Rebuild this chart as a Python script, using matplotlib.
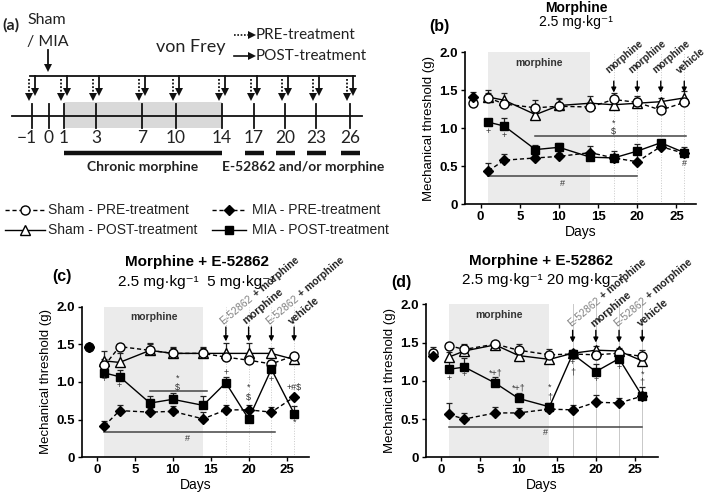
import numpy as np
import matplotlib
matplotlib.use('Agg')
import matplotlib.pyplot as plt
import matplotlib.transforms as mtransforms

plt.rcParams['font.family'] = ['Liberation Sans', 'DejaVu Sans']
TL_FONT = ['Lato', 'DejaVu Sans']

# ---------------- data ----------------
pre_days = [-1, 1, 3, 7, 10, 14, 17, 20, 23, 26]
post_days = [1, 3, 7, 10, 14, 17, 20, 23, 26]
event_days = [17, 20, 23, 26]

# panel (b) Morphine 2.5 mg/kg
b_sham_pre = [1.33, 1.40, 1.32, 1.27, 1.29, 1.28, 1.38, 1.34, 1.24, 1.34]
b_sham_pre_err = [0.03, 0.06, 0.05, 0.10, 0.11, 0.06, 0.08, 0.06, 0.04, 0.05]
b_sham_post = [1.41, 1.37, 1.18, 1.30, 1.33, 1.31, 1.33, 1.35, 1.40]
b_sham_post_err = [0.10, 0.09, 0.05, 0.08, 0.10, 0.05, 0.09, 0.05, 0.09]
b_mia_pre = [1.41, 0.44, 0.58, 0.61, 0.63, 0.68, 0.61, 0.56, 0.76, 0.67]
b_mia_pre_err = [0.07, 0.10, 0.08, 0.04, 0.04, 0.09, 0.04, 0.10, 0.03, 0.05]
b_mia_post = [1.08, 1.03, 0.72, 0.75, 0.62, 0.61, 0.70, 0.81, 0.68]
b_mia_post_err = [0.03, 0.11, 0.06, 0.05, 0.07, 0.09, 0.09, 0.03, 0.07]
b_events = ['morphine', 'morphine', 'morphine', 'vehicle']
b_marks = [(1, 0.96, '+'), (3, 0.90, '+'), (17, 1.07, '*'), (17, 0.96, '$'),
           (10.5, 0.28, '#'), (26, 0.54, '#')]
b_sig = [(7, 26.2, 0.895), (1, 20, 0.37)]

# panel (c) Morphine 2.5 + E-52862 5 mg/kg
c_sham_pre = [1.47, 1.22, 1.47, 1.42, 1.38, 1.38, 1.33, 1.29, 1.24, 1.35]
c_sham_pre_err = [0.02, 0.08, 0.03, 0.10, 0.09, 0.08, 0.06, 0.05, 0.05, 0.03]
c_sham_post = [1.28, 1.26, 1.42, 1.38, 1.38, 1.38, 1.38, 1.38, 1.30]
c_sham_post_err = [0.13, 0.13, 0.08, 0.07, 0.07, 0.14, 0.14, 0.07, 0.05]
c_mia_pre = [1.47, 0.42, 0.62, 0.60, 0.61, 0.51, 0.63, 0.63, 0.60, 0.80]
c_mia_pre_err = [0.02, 0.06, 0.08, 0.05, 0.07, 0.09, 0.06, 0.07, 0.07, 0.03]
c_mia_post = [1.12, 1.07, 0.72, 0.77, 0.69, 0.99, 0.51, 1.17, 0.58]
c_mia_post_err = [0.08, 0.09, 0.09, 0.08, 0.12, 0.08, 0.12, 0.07, 0.10]
c_events = ['E-52862|+ morphine', 'morphine', 'E-52862|+ morphine', 'vehicle']
c_marks = [(1, 1.03, '+'), (3, 0.96, '+'), (10.6, 1.05, '*'), (10.6, 0.93, '$'),
           (17, 1.13, '+'), (20, 0.93, '*'), (20, 0.80, '$'), (23, 1.03, '+'),
           (26, 0.93, '+#$'), (26, 0.46, '*'), (12, 0.25, '#')]
c_sig = [(7, 14.5, 0.88), (1, 23.5, 0.33)]

# panel (d) Morphine 2.5 + E-52862 20 mg/kg
d_sham_pre = [1.36, 1.46, 1.41, 1.48, 1.40, 1.34, 1.35, 1.34, 1.36, 1.32]
d_sham_pre_err = [0.08, 0.03, 0.07, 0.02, 0.08, 0.08, 0.03, 0.04, 0.04, 0.08]
d_sham_post = [1.31, 1.39, 1.47, 1.33, 1.28, 1.36, 1.40, 1.39, 1.26]
d_sham_post_err = [0.06, 0.05, 0.02, 0.04, 0.04, 0.04, 0.05, 0.04, 0.04]
d_mia_pre = [1.32, 0.56, 0.50, 0.58, 0.58, 0.63, 0.62, 0.72, 0.71, 0.80]
d_mia_pre_err = [0.03, 0.15, 0.08, 0.08, 0.07, 0.03, 0.07, 0.10, 0.06, 0.03]
d_mia_post = [1.15, 1.18, 0.97, 0.77, 0.66, 1.35, 1.12, 1.29, 0.80]
d_mia_post_err = [0.11, 0.12, 0.08, 0.07, 0.05, 0.04, 0.10, 0.06, 0.12]
d_events = ['E-52862|+ morphine', 'morphine', 'E-52862|+ morphine', 'vehicle']
d_marks = [(1, 1.03, '+'), (3, 1.08, '+'), (7, 1.10, '*+†'), (10, 0.90, '*+†'),
           (14, 0.91, '*'), (14, 0.79, '†'), (17, 1.24, '+'), (17, 1.12, '†'),
           (20, 1.02, '+'), (23, 1.18, '+'), (26, 1.09, '*'), (26, 0.98, '†'),
           (13.5, 0.32, '#')]
d_sig = [(1, 26, 0.40)]

# timeline (a)
tl_labels = ['−1', '0', '1', '3', '7', '10', '14', '17', '20', '23', '26']
tl_has_test = [True, False, True, True, True, True, True, True, True, True, True]
tl_treat = ['17', '20', '23', '26']

legend_labels = ['Sham - PRE-treatment', 'Sham - POST-treatment',
                 'MIA - PRE-treatment', 'MIA - POST-treatment']

# ---------------- figure ----------------
W, H = 709, 493
fig = plt.figure(figsize=(W / 100, H / 100), dpi=100)

ov = fig.add_axes([0, 0, 1, 1])
ov.set_xlim(0, W)
ov.set_ylim(H, 0)
ov.axis('off')

# ---- timeline layout (pixel positions of the schematic) ----
tl_x = [32, 49, 64, 96, 142, 176, 222, 254, 285, 316, 350]
ax_y = 116
ov.add_patch(plt.Rectangle((tl_x[2], 102), tl_x[6] - tl_x[2], 26,
                           facecolor='#d9d9d9', edgecolor='none', zorder=1))
ov.plot([12, 362], [ax_y, ax_y], color='#111', lw=1.3, zorder=2)
for x, lab, test in zip(tl_x, tl_labels, tl_has_test):
    ov.plot([x, x], [104, 128], color='#111', lw=1.3, zorder=2)
    dx = -5 if lab.startswith('−') else 0
    ov.text(x + dx, 138, lab, ha='center', va='center', fontsize=12.5,
            family=TL_FONT, color='#222')
    if test:
        ov.plot([x - 3, x - 3], [79, 95], color='#111', lw=1.3, ls=(0, (1, 1)))
        ov.plot([x - 3], [97], marker='v', color='#111', ms=5.5, mew=0)
        ov.plot([x + 3, x + 3], [76, 90], color='#111', lw=1.3)
        ov.plot([x + 3], [92], marker='v', color='#111', ms=5.5, mew=0)
ov.plot([tl_x[0] - 2, tl_x[-1] + 5], [76, 76], color='#111', lw=1.3)
# sham / MIA arrow
ov.plot([48, 48], [50, 66], color='#111', lw=1.3)
ov.plot([48], [68], marker='v', color='#111', ms=6, mew=0)
ov.text(27, 20, 'Sham', ha='left', va='center', fontsize=11.5, family=TL_FONT, color='#222')
ov.text(27, 42, '/ MIA', ha='left', va='center', fontsize=11.5, family=TL_FONT, color='#222')
ov.text(2, 25, '(a)', ha='left', va='center', fontsize=11.5, fontweight='bold',
        family=TL_FONT, color='#222')
ov.text(191, 47, 'von Frey', ha='center', va='center', fontsize=13, family=TL_FONT, color='#222')
ov.plot([234, 249], [35, 35], color='#111', lw=1.2, ls=(0, (1, 1)))
ov.plot([252], [35], marker='>', color='#111', ms=5.5, mew=0)
ov.plot([234, 249], [56, 56], color='#111', lw=1.2)
ov.plot([252], [56], marker='>', color='#111', ms=5.5, mew=0)
ov.text(256, 35, 'PRE-treatment', ha='left', va='center', fontsize=11, family=TL_FONT, color='#222')
ov.text(256, 56, 'POST-treatment', ha='left', va='center', fontsize=11, family=TL_FONT, color='#222')
# treatment bars
ov.plot([tl_x[2], tl_x[6]], [153, 153], color='#111', lw=3.2, solid_capstyle='butt')
ov.text((tl_x[2] + tl_x[6]) / 2, 167, 'Chronic morphine', ha='center', va='center',
        fontsize=10, fontweight='bold', family=TL_FONT, color='#222')
for lab in tl_treat:
    x = tl_x[tl_labels.index(lab)]
    ov.plot([x - 9, x + 10], [153, 153], color='#111', lw=3.2, solid_capstyle='butt')
ov.text(222, 167, 'E-52862 and/or morphine', ha='left', va='center',
        fontsize=10, fontweight='bold', family=TL_FONT, color='#222')

# ---- legend ----
leg_rows = [210, 230]
leg_cols = [(5, 45, 48), (212, 246, 252)]
leg_style = [dict(marker='o', mfc='white', ls=(0, (3, 2)), ms=6.5),
             dict(marker='^', mfc='white', ls='-', ms=6.5),
             dict(marker='D', mfc='k', ls=(0, (3, 2)), ms=5),
             dict(marker='s', mfc='k', ls='-', ms=5.5)]
for i, lab in enumerate(legend_labels):
    c, r = divmod(i, 2)
    x0, x1, xt = leg_cols[c]
    y = leg_rows[r]
    st = leg_style[i]
    ov.plot([x0, x1], [y, y], color='k', lw=1.0, ls=st['ls'])
    ov.plot([(x0 + x1) / 2], [y], marker=st['marker'], mfc=st['mfc'], mec='k',
            ms=st['ms'], mew=1.0, ls='none')
    ov.text(xt, y, lab, ha='left', va='center', fontsize=10, color='#222')

# ---- titles ----
ov.text(576, 8, 'Morphine', ha='center', va='center', fontsize=10, fontweight='bold')
ov.text(576, 22, '2.5 mg·kg⁻¹', ha='center', va='center', fontsize=10)
ov.text(439, 27, '(b)', ha='center', va='center', fontsize=11.5, fontweight='bold')
ov.text(197, 262, 'Morphine + E-52862', ha='center', va='center', fontsize=11, fontweight='bold')
ov.text(197, 282, '2.5 mg·kg⁻¹  5 mg·kg⁻¹', ha='center', va='center', fontsize=11)
ov.text(62, 276, '(c)', ha='center', va='center', fontsize=11.5, fontweight='bold')
ov.text(541, 261, 'Morphine + E-52862', ha='center', va='center', fontsize=11, fontweight='bold')
ov.text(543, 280, '2.5 mg·kg⁻¹ 20 mg·kg⁻¹', ha='center', va='center', fontsize=11)
ov.text(401, 283, '(d)', ha='center', va='center', fontsize=11.5, fontweight='bold')

ROT = 40


def px_axes(l, r, t, b):
    return [l / W, 1 - b / H, (r - l) / W, (b - t) / H]


def draw_panel(ax, xlim, sp, spe, so, soe, mp, mpe, mo, moe, events, marks, sig,
               arrow_top, arrow_tip, lab_dx, lab_y, vls, lab_fs):
    ax.set_xlim(*xlim)
    ax.set_ylim(0, 2.0)
    ax.axvspan(1, 14, color='#ebebeb', zorder=0, lw=0)
    for d in event_days:
        ax.axvline(d, color='#c8c8c8', lw=0.7, ls=vls, zorder=0.5)
    ax.text(7.5, 1.86, 'morphine', ha='center', va='center', fontsize=7.5,
            fontweight='bold', color='#333')
    series = [
        (post_days, so, soe, dict(marker='^', mfc='white', ls='-', ms=6.5), 3),
        (pre_days, sp, spe, dict(marker='o', mfc='white', ls=(0, (3, 2)), ms=6.5), 4),
        (post_days, mo, moe, dict(marker='s', mfc='k', ls='-', ms=5.5), 5),
        (pre_days, mp, mpe, dict(marker='D', mfc='k', ls=(0, (3, 2)), ms=5), 6),
    ]
    for x, y, e, st, z in series:
        x = np.asarray(x, float); y = np.asarray(y); e = np.asarray(e)
        ax.vlines(x, y, y + e, color='#222', lw=0.9, zorder=2)
        ax.plot(x, y + e, ls='none', marker='_', ms=5, mew=0.9, color='#222', zorder=2)
        conn = x > 0  # baseline (day -1) is not joined to the treatment course
        ax.plot(x[conn], y[conn], color='k', lw=1.0, ls=st['ls'], zorder=z)
        ax.plot(x, y, ls='none', marker=st['marker'],
                mfc=st['mfc'], mec='k', ms=st['ms'], mew=1.0, zorder=z)
    for x0, x1, yv in sig:
        ax.plot([x0, x1], [yv, yv], color='#444', lw=1.1, zorder=2)
    for x, yv, s in marks:
        ax.text(x, yv, s, ha='center', va='center', fontsize=6.5, color='#333', zorder=7)
    for d, lab in zip(event_days, events):
        ax.annotate('', xy=(d, arrow_tip), xytext=(d, arrow_top),
                    arrowprops=dict(arrowstyle='-|>', color='k', lw=1.0,
                                    mutation_scale=7, shrinkA=0, shrinkB=0),
                    annotation_clip=False, zorder=7)
        if '|' in lab:
            p1, p2 = lab.split('|')
            ax.text(d + lab_dx, lab_y, p1, rotation=ROT, rotation_mode='anchor',
                    ha='left', va='baseline', fontsize=lab_fs, color='#808080', clip_on=False)
            L = lab_fs * 4.1
            tr = mtransforms.offset_copy(ax.transData, fig=fig, x=L * np.cos(np.radians(ROT)),
                                         y=L * np.sin(np.radians(ROT)), units='points')
            ax.text(d + lab_dx, lab_y, p2, transform=tr, rotation=ROT, rotation_mode='anchor',
                    ha='left', va='baseline', fontsize=lab_fs, fontweight='bold', color='#222',
                    clip_on=False)
        else:
            ax.text(d + lab_dx, lab_y, lab, rotation=ROT, rotation_mode='anchor',
                    ha='left', va='baseline', fontsize=lab_fs + 0.3, fontweight='bold',
                    color='#222', clip_on=False)
    for s in ['top', 'right']:
        ax.spines[s].set_visible(False)
    for s in ['left', 'bottom']:
        ax.spines[s].set_linewidth(1.2)
    ax.set_xticks([0, 5, 10, 15, 20, 25])
    ax.set_yticks([0, 0.5, 1.0, 1.5, 2.0])
    ax.set_yticklabels(['0', '0.5', '1.0', '1.5', '2.0'])
    ax.tick_params(length=3, width=1.0, pad=2, labelsize=9.5)
    for t in ax.get_xticklabels() + ax.get_yticklabels():
        t.set_fontweight('bold')
    ax.set_xlabel('Days', fontsize=10, labelpad=1)
    ax.set_ylabel('Mechanical threshold (g)', fontsize=9.5, labelpad=3)
    ax.patch.set_visible(False)


axb = fig.add_axes(px_axes(465, 696, 52.3, 204.3))
draw_panel(axb, (-2, 27.5), b_sham_pre, b_sham_pre_err, b_sham_post, b_sham_post_err,
           b_mia_pre, b_mia_pre_err, b_mia_post, b_mia_post_err, b_events, b_marks, b_sig,
           1.62, 1.47, -0.6, 1.72, ':', 6.8)
axc = fig.add_axes(px_axes(81.7, 309.3, 306.7, 457.3))
draw_panel(axc, (-2, 28), c_sham_pre, c_sham_pre_err, c_sham_post, c_sham_post_err,
           c_mia_pre, c_mia_pre_err, c_mia_post, c_mia_post_err, c_events, c_marks, c_sig,
           1.73, 1.54, -0.3, 1.76, ':', 7.5)
axd = fig.add_axes(px_axes(425.7, 657.7, 304.3, 457.3))
draw_panel(axd, (-2, 28), d_sham_pre, d_sham_pre_err, d_sham_post, d_sham_post_err,
           d_mia_pre, d_mia_pre_err, d_mia_post, d_mia_post_err, d_events, d_marks, d_sig,
           1.66, 1.50, -0.2, 1.70, '-', 7.5)

fig.savefig('out.png', dpi=100)
